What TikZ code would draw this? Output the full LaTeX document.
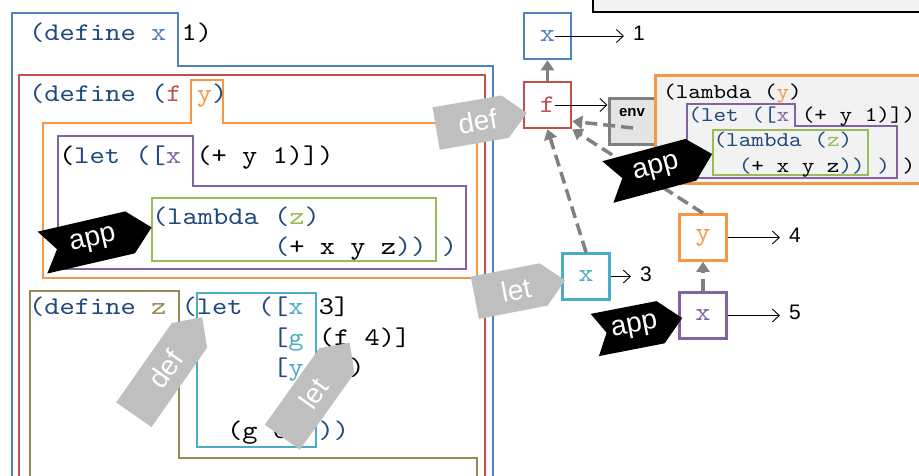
\documentclass[tikz,border=0pt]{standalone}
\usepackage{fontspec}
\setmainfont{Liberation Sans}
% typewriter face, widened to a 0.6em cell
\newfontfamily\codett{lmmono10-regular.otf}[FakeStretch=1.142857]
\usetikzlibrary{arrows.meta}

% Office-style palette
\definecolor{cblue}{HTML}{4F81BD}
\definecolor{cred}{HTML}{C0504D}
\definecolor{corange}{HTML}{F79646}
\definecolor{cpurple}{HTML}{8064A2}
\definecolor{cgreen}{HTML}{9BBB59}
\definecolor{cteal}{HTML}{4BACC6}
\definecolor{cgold}{HTML}{948A54}
\definecolor{cnavy}{HTML}{1F497D}
\definecolor{taggray}{HTML}{BFBFBF}
\definecolor{linkgray}{HTML}{808080}
\definecolor{panelfill}{HTML}{F2F2F2}
\definecolor{envfill}{HTML}{E4E4E4}

\newcommand{\nv}[1]{\textcolor{cnavy}{#1}}

% a pointed label flag: name, centre, angle, length, fill, notch depth, text
\newcommand{\flagtag}[7]{%
  \begin{scope}[shift={#2}, rotate=#3]
    \fill[#5] ({-#4/2},-21.5) -- ({#4/2-22},-21.5) -- ({#4/2},0)
      -- ({#4/2-22},21.5) -- ({-#4/2},21.5) -- ({-#4/2+#6},0) -- cycle;
    \node[tagtext, rotate=#3] (#1) at (-4,0) {#7};
  \end{scope}}

\begin{document}
\begin{tikzpicture}[x=1pt, y=-1pt,
  boxline/.style={line width=2.6, line join=miter},
  code/.style={anchor=base west, inner sep=0, font=\fontsize{25.4}{30}\selectfont\codett},
  pcode/.style={anchor=base west, inner sep=0, font=\fontsize{21}{25}\selectfont\codett},
  glyph/.style={inner sep=0, font=\fontsize{25.4}{30}\selectfont\codett},
  varbox/.style={draw=#1, line width=2.6, minimum width=47, minimum height=46, inner sep=0, fill=white},
  numlabel/.style={inner xsep=9, inner ysep=0, font=\fontsize{21}{23}\selectfont},
  tagtext/.style={text=white, inner sep=0, font=\fontsize{28}{30}\selectfont},
  ptr/.style={draw=black, line width=0.9, -{Straight Barb[length=7,width=13]}},
  link/.style={draw=linkgray, line width=3.5, -{Triangle[length=10,width=13]}},
  dlink/.style={link, dash pattern=on 12 off 6}]

\useasboundingbox (0,0) rectangle (919,475);
\clip (0,0) rectangle (919,475);
\fill[white] (0,0) rectangle (919,475);

% ---- nested scopes of the program ----
\draw[cblue, boxline] (12,490) -- (12,13) -- (178,13) -- (178,66) -- (493,66) -- (493,490);
\draw[cred, boxline] (19,490) -- (19,75) -- (485,75) -- (485,490);
\draw[corange, boxline] (43,123) -- (191,123) -- (191,80) -- (223,80) -- (223,123)
  -- (477,123) -- (477,278) -- (43,278) -- cycle;
\draw[cpurple, boxline] (58,136) -- (193,136) -- (193,186) -- (466,186) -- (466,269) -- (58,269) -- cycle;
\draw[cgreen, boxline] (152,198) rectangle (436,261);
\draw[cgold, boxline] (30,490) -- (30,291) -- (179,291) -- (179,458) -- (477,458) -- (477,490);
\draw[cteal, boxline] (197,293) rectangle (316,447);

% ---- program text ----
\node[code] (l1) at (29,40) {\nv{(define} \textcolor{cblue}{x} 1)};
\node[code] (l2) at (29,101) {\nv{(define (}\textcolor{cred}{f} \textcolor{corange}{y}\nv{)}};
\node[code] (l3) at (59,163) {(\nv{let ([}\textcolor{cpurple}{x} (+ y 1)])};
\node[code] (l4) at (152,224) {\nv{(lambda (}\textcolor{cgreen}{z}\nv{)}};
\node[code] (l5) at (274,254) {\nv{(}+ x y z\nv{)) )}};
\node[code] (l6) at (29,314) {\nv{(define} \textcolor{cgold}{z} \nv{(let ([}\textcolor{cteal}{x} 3]};
\node[code] (l7) at (273,345) {\nv{[}\textcolor{cteal}{g} (f 4)]};
\node[code] (l8) at (273,375) {\nv{[}\textcolor{cteal}{y} 5])};
\node[code] (l9) at (227,438) {(g 6) \nv{))}};

% ---- environment diagram ----
\draw[black, line width=1.5, fill=panelfill] (593,-10) rectangle (930,12);

\node[draw=linkgray, line width=3, fill=envfill, minimum width=46, minimum height=46] (env) at (632,121) {};
\node[inner sep=0, font=\fontsize{15}{17}\selectfont\bfseries] (envt) at (632,113) {env};

% closure body
\draw[corange, line width=3, fill=panelfill] (655,75) rectangle (930,183);
\draw[cpurple, boxline] (687,104) -- (795,104) -- (795,126) -- (897,126) -- (897,178) -- (687,178) -- cycle;
\draw[cgreen, boxline] (713,130) rectangle (868,175);
\node[pcode] (p1) at (663,98.5) {(lambda (\textcolor{corange}{y})};
\node[pcode] (p2) at (688.2,121.5) {\nv{(let ([}\textcolor{cpurple}{x} (+ y 1)])};
\node[pcode] (p3) at (713.4,146.5) {\nv{(lambda (}\textcolor{cgreen}{z}\nv{)}};
\node[pcode] (p4) at (738.6,172.5) {\nv{(}+ x y z\nv{)) )} )};

% frames
\node[varbox=cblue] (xb) at (547.5,36) {};
\node[glyph, text=cblue] (xt) at (xb) {x};
\node[varbox=cred] (fb) at (547.5,105) {};
\node[glyph, text=cred] (ft) at (fb) {f};
\node[varbox=cteal] (tb) at (586,276.5) {};
\node[glyph, text=cteal] (tt) at (tb) {x};
\node[varbox=corange] (yb) at (703,237.5) {};
\node[glyph, text=corange] (yt) at (yb) {y};
\node[varbox=cpurple] (pb) at (703,315.5) {};
\node[glyph, text=cpurple] (pt) at (pb) {x};

% values
\node[numlabel] (one) at (639,33) {1};
\node[numlabel] (three) at (646,274) {3};
\node[numlabel] (four) at (795,235) {4};
\node[numlabel] (five) at (795,312) {5};

\draw[ptr] (xt.east) -- (xt.east -| one.west);
\draw[ptr] (ft.east) -- (ft.east -| env.west);
\draw[ptr] (tb.east) -- (tb.east -| three.west);
\draw[ptr] (yb.east) -- (yb.east -| four.west);
\draw[ptr] (pb.east) -- (pb.east -| five.west);

% parent links
\coordinate (envdash) at (633,128);
\draw[link] (fb.north) -- (xb.south);
\draw[dlink] (pb.north) -- (yb.south);
\draw[dlink] (envdash) -- ([yshift=8]fb.south east);
\draw[dlink] (yb.north) -- (fb.south east);
\draw[dlink] (tb.north) -- (fb.south);

% ---- step flags ----
\flagtag{tagDefF}{(481.5,120.75)}{9.7}{92}{taggray}{0}{def}
\flagtag{tagAppGreen}{(97,240)}{13}{112}{black}{15}{app}
\flagtag{tagAppPanel}{(660,168)}{15}{108}{black}{15}{app}
\flagtag{tagAppX}{(638.5,326.5)}{11}{89}{black}{12}{app}
\flagtag{tagLetX}{(520,289)}{11}{92}{taggray}{0}{let}
\flagtag{tagDefZ}{(168,366)}{55}{119}{taggray}{0}{def}
\flagtag{tagLetG}{(316,390)}{54.5}{116}{taggray}{0}{let}

\end{tikzpicture}
\end{document}
